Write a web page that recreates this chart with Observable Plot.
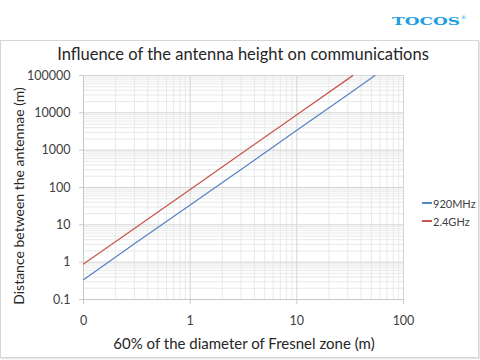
<!DOCTYPE html>
<html>
<head>
<meta charset="utf-8">
<script src="https://cdn.jsdelivr.net/npm/d3@7"></script>
<script src="https://cdn.jsdelivr.net/npm/@observablehq/plot@0.6"></script>
<style>
  html, body { margin: 0; padding: 0; background: #fff; }
  #wrap { position: relative; width: 480px; height: 360px; overflow: hidden; font-family: Lato, "Open Sans", sans-serif; }
  #frame { position: absolute; left: 0; top: 40px; width: 477px; height: 316px; border: 1px solid #d6d6d6; box-shadow: 1px 1px 1px #e6e6e6; }
  #chart { position: absolute; left: 0; top: 0; }
  #title { position: absolute; left: 0; width: 486px; top: 44px; text-align: center; font-size: 16.5px; color: #262626; white-space: nowrap; }
  #ytitle { position: absolute; left: 18px; top: 196px; transform: translate(-50%, -50%) rotate(-90deg); font-size: 14px; color: #262626; white-space: nowrap; }
  #xtitle { position: absolute; left: 244px; top: 343px; transform: translate(-50%, -50%); font-size: 15px; color: #262626; white-space: nowrap; }
  .leg { position: absolute; left: 422px; font-size: 11px; color: #404040; white-space: nowrap; display: flex; align-items: center; }
  .leg span.sw { display: inline-block; width: 10px; height: 1.5px; margin-right: 1px; }
  #logo { position: absolute; left: 0; top: 0; }
</style>
</head>
<body>
<div id="wrap">
  <div id="frame"></div>
  <div id="chart"></div>
  <div id="title"></div>
  <div id="ytitle"></div>
  <div id="xtitle"></div>
  <div id="legend"></div>
  <svg id="logo" width="480" height="36">
    <text id="logoText" x="392" y="24.5" font-family="DejaVu Serif" font-weight="bold" font-size="11" fill="#1f9fe3" textLength="68" lengthAdjust="spacingAndGlyphs"></text>
    <text x="461" y="19" font-family="DejaVu Sans" font-size="5" fill="#1f9fe3">®</text>
  </svg>
</div>
<script>
// ---- Data ----
const titleText = "Influence of the antenna height on communications";
const xTitle = "60% of the diameter of Fresnel zone (m)";
const yTitle = "Distance between the antennae (m)";
const logoText = "TOCOS";

const seriesNames = ["920MHz", "2.4GHz"];
const seriesColors = ["#5485C4", "#C9564F"];

// 920MHz: Fresnel height (m) vs distance (m)
const h920 = [0.1, 0.3, 1, 3, 10, 30, 54];
const d920 = [0.34, 3.1, 34, 305, 3400, 30500, 100000];
// 2.4GHz
const h24 = [0.1, 0.3, 1, 3, 10, 30, 33.5];
const d24 = [0.89, 8.0, 89, 800, 8900, 80000, 100000];

const xTickValues = [0.1, 1, 10, 100];
const xTickLabels = ["0", "1", "10", "100"];
const yTickValues = [0.1, 1, 10, 100, 1000, 10000, 100000];
const yTickLabels = ["0.1", "1", "10", "100", "1000", "10000", "100000"];

// ---- Build ----
const rows = [
  ...h920.map((h, i) => ({h, d: d920[i], s: seriesNames[0]})),
  ...h24.map((h, i) => ({h, d: d24[i], s: seriesNames[1]}))
];

const xDomain = [xTickValues[0], xTickValues[xTickValues.length - 1]];
const yDomain = [yTickValues[0], yTickValues[yTickValues.length - 1]];
const minorX = d3.scaleLog().domain(xDomain).ticks().filter(v => !xTickValues.includes(v));
const minorY = d3.scaleLog().domain(yDomain).ticks().filter(v => !yTickValues.some(t => Math.abs(t - v) / t < 1e-9));

const chart = Plot.plot({
  width: 480,
  height: 360,
  marginLeft: 83,
  marginRight: 77,
  marginTop: 75,
  marginBottom: 61,
  style: {fontFamily: "Lato, 'Open Sans', sans-serif", fontSize: "12.5px", color: "#404040", background: "transparent"},
  x: {type: "log", domain: xDomain},
  y: {type: "log", domain: yDomain},
  color: {domain: seriesNames, range: seriesColors},
  marks: [
    Plot.gridX(minorX, {stroke: "#e9e9e9", strokeOpacity: 1}),
    Plot.gridY(minorY, {stroke: "#e9e9e9", strokeOpacity: 1}),
    Plot.gridX(xTickValues, {stroke: "#d4d4d4", strokeOpacity: 1}),
    Plot.gridY(yTickValues, {stroke: "#d4d4d4", strokeOpacity: 1}),
    Plot.ruleX([xDomain[0]], {stroke: "#c8c8c8"}),
    Plot.ruleY([yDomain[0]], {stroke: "#c8c8c8"}),
    Plot.axisX(xTickValues, {
      tickFormat: (d) => xTickLabels[xTickValues.indexOf(d)],
      tickSize: 5, tickPadding: 12, stroke: "#c8c8c8", fill: "#404040", label: null
    }),
    Plot.axisY(yTickValues, {
      tickFormat: (d) => yTickLabels[yTickValues.indexOf(d)],
      tickSize: 4, tickPadding: 9, stroke: "#c8c8c8", fill: "#404040", label: null
    }),
    Plot.line(rows, {x: "h", y: "d", z: "s", stroke: "s", strokeWidth: 1.25})
  ]
});
document.getElementById("chart").appendChild(chart);
document.getElementById("title").textContent = titleText;
document.getElementById("xtitle").textContent = xTitle;
document.getElementById("ytitle").textContent = yTitle;
document.getElementById("logoText").textContent = logoText;

const legend = document.getElementById("legend");
const legTops = [203, 221];
seriesNames.forEach((name, i) => {
  const div = document.createElement("div");
  div.className = "leg";
  div.style.top = (legTops[i] - 8) + "px";
  div.style.height = "16px";
  const sw = document.createElement("span");
  sw.className = "sw";
  sw.style.background = seriesColors[i];
  const tx = document.createElement("span");
  tx.textContent = name;
  div.appendChild(sw);
  div.appendChild(tx);
  legend.appendChild(div);
});
</script>
</body>
</html>
